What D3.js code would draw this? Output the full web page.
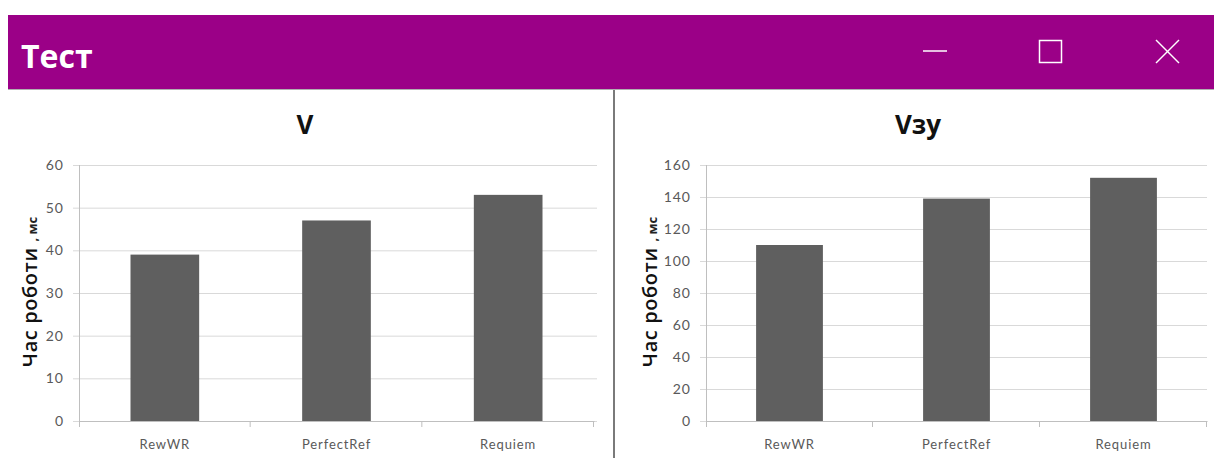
<!DOCTYPE html>
<html>
<head>
<meta charset="utf-8">
<script src="https://cdn.jsdelivr.net/npm/d3@7"></script>
<style>
  body { margin: 0; background: #fff; }
  svg { display: block; }
</style>
</head>
<body>
<script>
// values
const categories = ["RewWR", "PerfectRef", "Requiem"];
const vValues = [39, 47, 53];
const vzuValues = [110, 139, 152];
const vTicks = [0, 10, 20, 30, 40, 50, 60];
const vzuTicks = [0, 20, 40, 60, 80, 100, 120, 140, 160];

const W = 1214, H = 458;
const svg = d3.select("body").append("svg").attr("width", W).attr("height", H);

// window title bar
svg.append("rect").attr("x", 8).attr("y", 15).attr("width", W - 8).attr("height", 74).attr("fill", "#9b0087");
svg.append("line").attr("x1", 8).attr("x2", W).attr("y1", 89.5).attr("y2", 89.5).attr("stroke", "#b0b0b0");
svg.append("text").attr("x", 21).attr("y", 68)
  .attr("fill", "#fff").style("font", "bold 32px 'Open Sans', sans-serif").text("Тест");

const ctl = svg.append("g").attr("stroke", "#fff").attr("stroke-width", 1.5).attr("fill", "none");
ctl.append("line").attr("x1", 923).attr("x2", 947).attr("y1", 51).attr("y2", 51);
ctl.append("rect").attr("x", 1039.5).attr("y", 40.5).attr("width", 22).attr("height", 22);
ctl.append("line").attr("x1", 1156).attr("x2", 1179).attr("y1", 40).attr("y2", 63);
ctl.append("line").attr("x1", 1179).attr("x2", 1156).attr("y1", 40).attr("y2", 63);

// divider between the two charts
svg.append("line").attr("x1", 614).attr("x2", 614).attr("y1", 90).attr("y2", H)
  .attr("stroke", "#7a7a7a").attr("stroke-width", 2);

function chart(opt) {
  const g = svg.append("g");
  const x = d3.scaleBand().domain(categories).range([opt.x0, opt.x1]).paddingInner(0.6).paddingOuter(0.3);
  const xb = d3.scaleBand().domain(categories).range([opt.x0, opt.x1]);
  const y = d3.scaleLinear().domain([0, opt.max]).range([421, 165]);

  // gridlines + y labels
  const ya = g.append("g").attr("transform", `translate(${opt.x0},0)`)
    .call(d3.axisLeft(y).tickValues(opt.ticks).tickSize(-(opt.gridEnd - opt.x0)).tickPadding(15));
  ya.select(".domain").remove();
  ya.selectAll(".tick line").attr("stroke", "#d9d9d9").attr("x1", -6);
  ya.selectAll(".tick text").attr("fill", "#595959")
    .style("font", "14px Lato, sans-serif").style("letter-spacing", "1px");
  g.append("line").attr("x1", opt.x0 + 0.5).attr("x2", opt.x0 + 0.5).attr("y1", 165).attr("y2", 427)
    .attr("stroke", "#bfbfbf");

  // bars
  g.selectAll(".bar").data(opt.values).join("rect")
    .attr("x", (d, i) => x(categories[i]))
    .attr("width", x.bandwidth())
    .attr("y", d => y(d))
    .attr("height", d => y(0) - y(d))
    .attr("fill", "#5f5f5f");

  // x axis
  const xa = g.append("g").attr("transform", "translate(0,421)")
    .call(d3.axisBottom(xb).tickSize(0).tickPadding(19).tickSizeOuter(0));
  xa.select(".domain").attr("stroke", "#bfbfbf");
  xa.selectAll(".tick text").attr("fill", "#595959")
    .style("font", "13px Lato, sans-serif").style("letter-spacing", "0.9px");
  g.selectAll(".xt").data(categories).join("line")
    .attr("x1", d => xb(d) + xb.bandwidth() - 0.5).attr("x2", d => xb(d) + xb.bandwidth() - 0.5)
    .attr("y1", 421).attr("y2", 427).attr("stroke", "#bfbfbf");

  // title
  g.append("text").attr("x", opt.titleX).attr("y", 134).attr("text-anchor", "middle")
    .style("font", "bold 26px 'Open Sans', sans-serif").attr("fill", "#111").text(opt.title);

  // y axis title
  const t = g.append("text").attr("transform", `translate(${opt.labelX},292) rotate(-90)`)
    .attr("text-anchor", "middle").style("font-family", "'Open Sans', sans-serif");
  t.append("tspan").style("font-size", "20px").style("font-weight", "600").attr("fill", "#111")
    .style("letter-spacing", "0.6px").text("Час роботи ");
  t.append("tspan").style("font-size", "13px").style("font-weight", "bold").attr("fill", "#222").text(", мс");
}

chart({ x0: 79, x1: 594, gridEnd: 597, max: 60, ticks: vTicks, values: vValues,
  title: "V", titleX: 305, labelX: 37 });
chart({ x0: 706, x1: 1207, gridEnd: 1207, max: 160, ticks: vzuTicks, values: vzuValues,
  title: "Vзу", titleX: 918, labelX: 657 });
</script>
</body>
</html>
